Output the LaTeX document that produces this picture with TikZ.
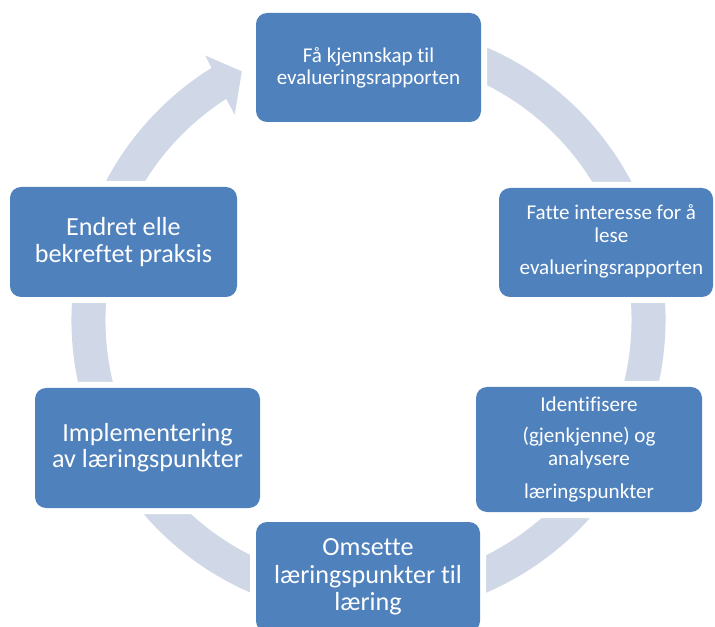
\documentclass[tikz,border=0pt]{standalone}
\usepackage{fontspec}
\setmainfont[Ligatures={NoCommon}]{Carlito}
\definecolor{boxblue}{HTML}{4F81BD}
\definecolor{ringblue}{HTML}{D0D8E8}
\begin{document}
\begin{tikzpicture}[x=0.75pt,y=0.75pt,
  stepbox/.style={rounded corners=8.25pt, fill=boxblue, text=white, align=center,
    inner sep=0pt, preaction={draw=white, line width=9pt}},
  smalltxt/.style={font=\fontsize{15.8}{17.25}\selectfont},
  bigtxt/.style={font=\fontsize{19.6}{20.6}\selectfont},
  ringstyle/.style={fill=ringblue, draw=none}]
\useasboundingbox (0,0) rectangle (715,626);
% circular arrow
\begin{scope}[shift={(368.5,306)}]
\fill[ringstyle] (80:297) arc[start angle=80, end angle=-238.1, radius=297]
  -- (-238.3:311) -- (-243:279) -- (-236.9:245) -- (-237.25:263)
  arc[start angle=-237.25, end angle=80, radius=263] -- cycle;
\end{scope}
% boxes
\node[stepbox, smalltxt, minimum width=168.75pt, minimum height=81.75pt] (b1) at (368.5,558.5)
  {Få kjennskap til\\[-0.75pt]evalueringsrapporten};
\node[stepbox, smalltxt, minimum width=160.5pt, minimum height=81.75pt] (b2) at (606,383.5)
  {\kern8pt\begin{tabular}{@{}c@{}}Fatte interesse for å\\lese\\[6.75pt]evalueringsrapporten\end{tabular}};
\node[stepbox, smalltxt, minimum width=169.5pt, minimum height=93.75pt] (b3) at (589,176.5)
  {Identifisere\\[6pt](gjenkjenne) og\\analysere\\[7.5pt]læringspunkter};
\node[stepbox, bigtxt, minimum width=168pt, minimum height=82.5pt] (b4) at (368,49)
  {Omsette\\læringspunkter til\\læring};
\node[stepbox, bigtxt, minimum width=170.25pt, minimum height=82.5pt] (b5) at (123.5,384)
  {Endret elle\\bekreftet praksis};
\node[stepbox, bigtxt, minimum width=168.75pt, minimum height=90pt] (b6) at (147.5,178)
  {Implementering\\[-1.1pt]av læringspunkter};
\end{tikzpicture}
\end{document}
